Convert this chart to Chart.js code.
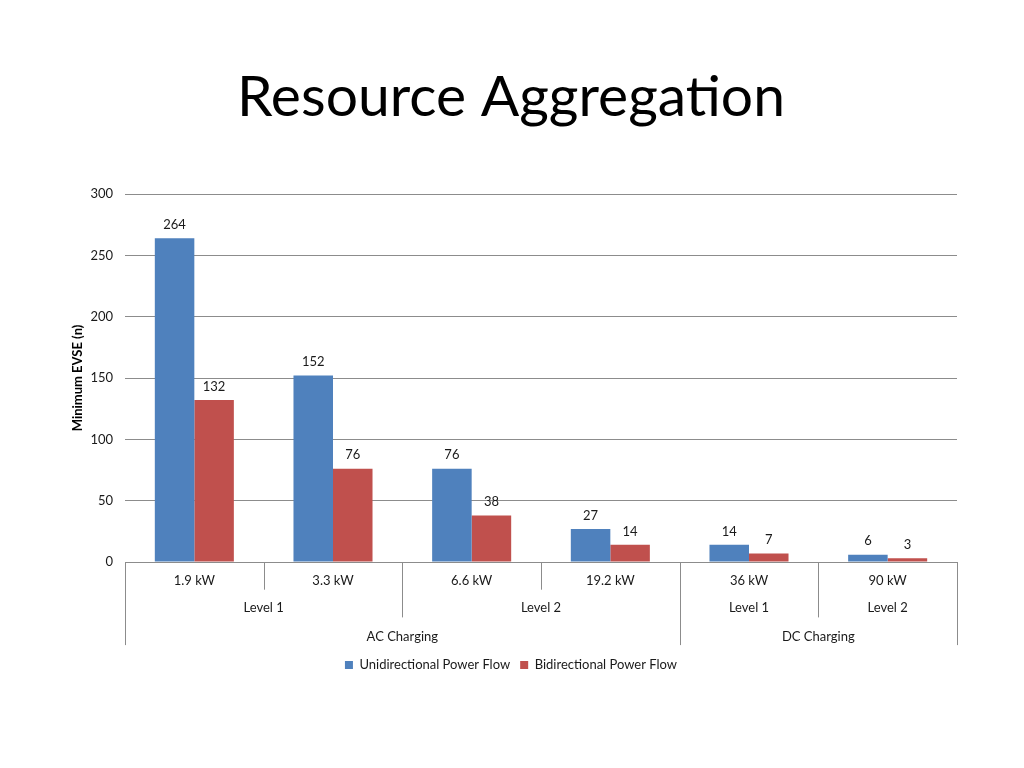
<!DOCTYPE html>
<html>
<head>
<meta charset="utf-8">
<script src="https://cdn.jsdelivr.net/npm/chart.js@4"></script>
<style>
html,body{margin:0;padding:0;background:#fff;}
#wrap{width:1024px;height:768px;position:relative;}
</style>
</head>
<body>
<div id="wrap"><canvas id="c" width="1024" height="768"></canvas></div>
<script>
const titleText = 'Resource Aggregation';
const yAxisTitle = 'Minimum EVSE (n)';
const categories = ['1.9 kW', '3.3 kW', '6.6 kW', '19.2 kW', '36 kW', '90 kW'];
const levelGroups = [
  { label: 'Level 1', span: 2 },
  { label: 'Level 2', span: 2 },
  { label: 'Level 1', span: 1 },
  { label: 'Level 2', span: 1 }
];
const chargingGroups = [
  { label: 'AC Charging', span: 4 },
  { label: 'DC Charging', span: 2 }
];
const unidirectional = [264, 152, 76, 27, 14, 6];
const bidirectional = [132, 76, 38, 14, 7, 3];
const seriesNames = ['Unidirectional Power Flow', 'Bidirectional Power Flow'];
const yTicks = { min: 0, max: 300, step: 50 };

const FONT = 'Lato, "Open Sans", sans-serif';
const lineColor = '#8c8c8c';

const dataLabels = {
  id: 'dataLabels',
  afterDatasetsDraw(chart) {
    const ctx = chart.ctx;
    ctx.save();
    ctx.font = '13px ' + FONT;
    ctx.fillStyle = '#1a1a1a';
    ctx.textAlign = 'center';
    ctx.textBaseline = 'bottom';
    chart.data.datasets.forEach((ds, di) => {
      const meta = chart.getDatasetMeta(di);
      meta.data.forEach((bar, i) => {
        ctx.fillText(String(ds.data[i]), bar.x, bar.y - 7);
      });
    });
    ctx.restore();
  }
};

const multiLevelAxis = {
  id: 'multiLevelAxis',
  afterDraw(chart) {
    const x = chart.scales.x;
    const ctx = chart.ctx;
    const step = x.getPixelForValue(1) - x.getPixelForValue(0);
    const edge = i => x.getPixelForValue(i) - step / 2;
    const top = x.top;
    const rowH = 27.7;
    ctx.save();
    ctx.strokeStyle = lineColor;
    ctx.lineWidth = 1;
    ctx.font = '13px ' + FONT;
    ctx.fillStyle = '#1a1a1a';
    ctx.textAlign = 'center';
    ctx.textBaseline = 'middle';

    const lvlBounds = new Set();
    let acc = 0;
    levelGroups.forEach(g => { acc += g.span; lvlBounds.add(acc); });
    const chBounds = new Set([0]);
    acc = 0;
    chargingGroups.forEach(g => { acc += g.span; chBounds.add(acc); });

    const vline = (px, y2) => {
      const xx = Math.round(px) + 0.5;
      ctx.beginPath();
      ctx.moveTo(xx, top);
      ctx.lineTo(xx, y2);
      ctx.stroke();
    };
    for (let i = 0; i <= categories.length; i++) {
      let depth = 1;
      if (chBounds.has(i)) depth = 3;
      else if (lvlBounds.has(i)) depth = 2;
      vline(edge(i), top + rowH * depth);
    }
    categories.forEach((c, i) => ctx.fillText(c, x.getPixelForValue(i), top + 18.5));
    let s = 0;
    levelGroups.forEach(g => {
      const cx = (edge(s) + edge(s + g.span)) / 2;
      ctx.fillText(g.label, cx, top + rowH + 18.5);
      s += g.span;
    });
    s = 0;
    chargingGroups.forEach(g => {
      const cx = (edge(s) + edge(s + g.span)) / 2;
      ctx.fillText(g.label, cx, top + rowH * 2 + 19);
      s += g.span;
    });
    ctx.restore();
  }
};

new Chart(document.getElementById('c'), {
  type: 'bar',
  data: {
    labels: categories,
    datasets: [
      { label: seriesNames[0], data: unidirectional, backgroundColor: '#4F81BD', borderWidth: 0,
        categoryPercentage: 0.57, barPercentage: 1.0 },
      { label: seriesNames[1], data: bidirectional, backgroundColor: '#C0504D', borderWidth: 0,
        categoryPercentage: 0.57, barPercentage: 1.0 }
    ]
  },
  options: {
    responsive: false,
    animation: false,
    devicePixelRatio: 1,
    layout: { padding: { top: 0, left: 65, right: 67, bottom: 86.5 } },
    plugins: {
      title: {
        display: true,
        text: titleText,
        color: '#000',
        font: { family: FONT, size: 57, weight: 'normal' },
        padding: { top: 63, bottom: 62.6 }
      },
      legend: {
        display: true,
        position: 'bottom',
        labels: {
          boxWidth: 8, boxHeight: 8, padding: 10,
          color: '#1a1a1a',
          font: { family: FONT, size: 13 }
        }
      },
      tooltip: { enabled: false }
    },
    scales: {
      x: {
        ticks: { display: false },
        grid: { display: false, drawTicks: false },
        border: { display: true, color: lineColor },
        afterFit(scale) { scale.height = 86.5; }
      },
      y: {
        min: yTicks.min,
        max: yTicks.max,
        ticks: { stepSize: yTicks.step, padding: 12, color: '#1a1a1a', font: { family: FONT, size: 13 } },
        grid: { color: lineColor, drawTicks: false },
        border: { display: false },
        title: { display: true, text: yAxisTitle, color: '#000', font: { family: FONT, size: 13, weight: 'bold' }, padding: 5 },
        afterFit(scale) { scale.width = 60; }
      }
    }
  },
  plugins: [dataLabels, multiLevelAxis]
});
</script>
</body>
</html>
